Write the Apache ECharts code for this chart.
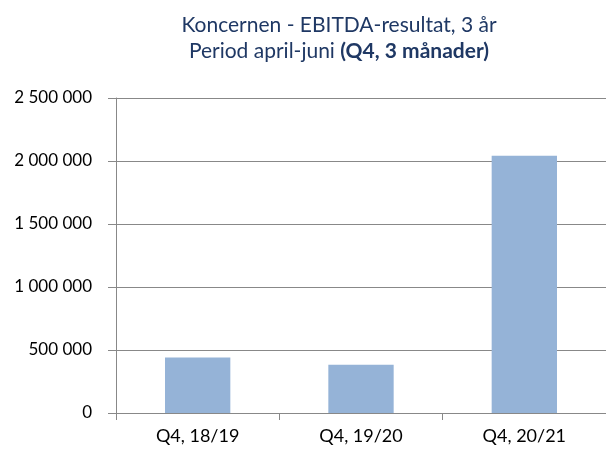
<!DOCTYPE html>
<html><head><meta charset="utf-8">
<script src="https://cdn.jsdelivr.net/npm/echarts@6/dist/echarts.min.js"></script>
<style>html,body{margin:0;padding:0;background:#fff}#c{width:606px;height:450px}</style>
</head><body><div id="c"></div>
<script>
var categories = ["Q4, 18/19", "Q4, 19/20", "Q4, 20/21"];
var values = [440000, 382000, 2042000];
var titleLine1 = "Koncernen - EBITDA-resultat, 3 år";
var titleLine2a = "Period april-juni ";
var titleLine2b = "(Q4, 3 månader)";

var FONT = "Lato";
var chart = echarts.init(document.getElementById('c'), null, {renderer: 'canvas'});
function fmt(v) {
  return String(v).replace(/\B(?=(\d{3})+(?!\d))/g, ' ');
}
chart.setOption({
  animation: false,
  backgroundColor: '#fff',
  graphic: [{
    type: 'text',
    x: 339, y: 12,
    style: {
      text: titleLine1 + '\n' + titleLine2a + '{b|' + titleLine2b + '}',
      align: 'center',
      fill: '#1f3864',
      fontFamily: FONT, fontSize: 21,
      lineHeight: 26,
      rich: { b: { fontWeight: 'bold', fontFamily: FONT, fontSize: 21, fill: '#1f3864', lineHeight: 26 } }
    }
  }],
  grid: { left: 116, right: 0, top: 98, bottom: 37, containLabel: false },
  xAxis: {
    type: 'category',
    data: categories,
    axisLine: { lineStyle: { color: '#888888', width: 1 } },
    axisTick: { show: true, length: 7, lineStyle: { color: '#888888' } },
    axisLabel: { color: '#000', fontFamily: FONT, fontSize: 18, margin: 14 },
    splitLine: { show: false }
  },
  yAxis: {
    type: 'value',
    min: 0, max: 2500000, interval: 500000,
    axisLine: { show: true, lineStyle: { color: '#888888', width: 1 } },
    axisTick: { show: true, length: 8, lineStyle: { color: '#888888' } },
    axisLabel: { color: '#000', fontFamily: FONT, fontSize: 17, margin: 24, formatter: fmt },
    splitLine: { show: true, lineStyle: { color: '#888888', width: 1 } }
  },
  series: [{
    type: 'bar',
    data: values,
    barWidth: '40%',
    itemStyle: { color: '#95b3d7' }
  }]
});
</script></body></html>
